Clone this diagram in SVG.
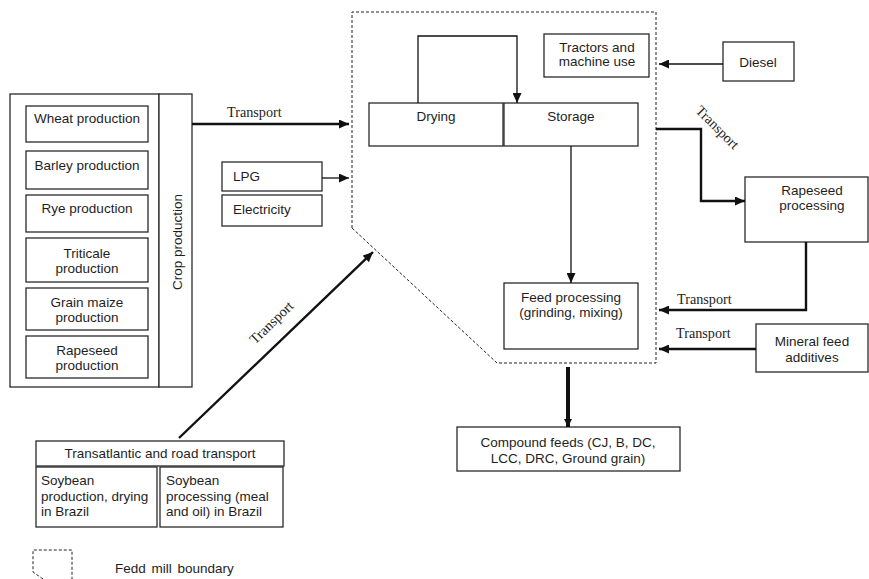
<svg xmlns="http://www.w3.org/2000/svg" width="869" height="579" viewBox="0 0 869 579">
<defs>
<style>
.box{fill:#fff;stroke:#2a2a2a;stroke-width:1.3}
.t{font-family:"Liberation Sans",Arial,sans-serif;font-size:13.5px;fill:#1e1e1e;text-anchor:middle}
.tl{font-family:"Liberation Sans",Arial,sans-serif;font-size:13.5px;fill:#1e1e1e}
.s{font-family:"Liberation Serif","Times New Roman",serif;font-size:14.2px;fill:#1e1e1e}
.c{fill:none;stroke:#111}
.thin{stroke-width:1.3}
.thick{stroke-width:2.4}
.dash{fill:none;stroke:#222;stroke-width:1;stroke-dasharray:3 2}
</style>
<marker id="ah" markerUnits="userSpaceOnUse" markerWidth="11" markerHeight="9" refX="10" refY="4.5" orient="auto">
<path d="M0,0 L10,4.5 L0,9 z" fill="#111"/>
</marker>
<marker id="ahs" markerUnits="userSpaceOnUse" markerWidth="9" markerHeight="8" refX="8" refY="4" orient="auto">
<path d="M0,0 L8,4 L0,8 z" fill="#111"/>
</marker>
</defs>
<rect width="869" height="579" fill="#fff"/>

<g id="boundary">
<path class="dash" d="M352,228 L352,12 L656,12 L656,363 L497,363 Z" stroke-linejoin="round"/>
</g>

<g id="crop-production">
<rect class="box" x="10" y="94" width="149" height="293"/>
<rect class="box" x="159" y="94" width="33" height="293"/>
<text class="t" transform="rotate(-90 182 242)" x="182" y="242">Crop production</text>
</g>
<g id="wheat"><rect class="box" x="26" y="106" width="122" height="36"/><text class="t" x="87" y="123">Wheat production</text></g>
<g id="barley"><rect class="box" x="26" y="151" width="122" height="38"/><text class="t" x="87" y="170">Barley production</text></g>
<g id="rye"><rect class="box" x="26" y="195" width="122" height="37"/><text class="t" x="87" y="213">Rye production</text></g>
<g id="triticale"><rect class="box" x="26" y="238" width="122" height="44"/><text class="t" x="87" y="258">Triticale</text><text class="t" x="87" y="273">production</text></g>
<g id="maize"><rect class="box" x="26" y="288" width="122" height="42"/><text class="t" x="87" y="307">Grain maize</text><text class="t" x="87" y="322">production</text></g>
<g id="rapeseed-prod"><rect class="box" x="26" y="336" width="122" height="42"/><text class="t" x="87" y="355">Rapeseed</text><text class="t" x="87" y="370">production</text></g>

<g id="lpg"><rect class="box" x="222" y="162" width="100" height="29"/><text class="tl" x="233" y="181">LPG</text></g>
<g id="electricity"><rect class="box" x="222" y="195" width="100" height="31"/><text class="tl" x="233" y="214">Electricity</text></g>

<g id="drying"><rect class="box" x="369" y="103" width="134" height="43"/><text class="t" x="436" y="121">Drying</text></g>
<g id="storage"><rect class="box" x="504" y="103" width="134" height="43"/><text class="t" x="571" y="121">Storage</text></g>
<g id="tractors"><rect class="box" x="544" y="34" width="105" height="43"/><text class="t" x="597" y="52">Tractors and</text><text class="t" x="597" y="66">machine use</text></g>
<g id="diesel"><rect class="box" x="723" y="42" width="71" height="39"/><text class="t" x="758" y="67">Diesel</text></g>
<g id="rapeseed-processing"><rect class="box" x="745" y="177" width="123" height="65"/><text class="t" x="812" y="195">Rapeseed</text><text class="t" x="812" y="210">processing</text></g>
<g id="feed-processing"><rect class="box" x="504" y="283" width="134" height="66"/><text class="t" x="571" y="302">Feed processing</text><text class="t" x="571" y="317">(grinding, mixing)</text></g>
<g id="mineral"><rect class="box" x="756" y="324" width="112" height="48"/><text class="t" x="812" y="346">Mineral feed</text><text class="t" x="812" y="362">additives</text></g>
<g id="compound"><rect class="box" x="457" y="427" width="223" height="44"/><text class="t" x="568" y="447">Compound feeds (CJ, B, DC,</text><text class="t" x="568" y="463">LCC, DRC, Ground grain)</text></g>

<g id="transatlantic"><rect class="box" x="36" y="441" width="248" height="25"/><text class="t" x="160" y="458">Transatlantic and road transport</text></g>
<g id="soy-production"><rect class="box" x="36" y="467" width="121" height="60"/><text class="tl" x="41" y="485">Soybean</text><text class="tl" x="41" y="501">production, drying</text><text class="tl" x="41" y="516">in Brazil</text></g>
<g id="soy-processing"><rect class="box" x="160" y="467" width="123" height="60"/><text class="tl" x="166" y="485">Soybean</text><text class="tl" x="166" y="501">processing (meal</text><text class="tl" x="166" y="516">and oil) in Brazil</text></g>

<g id="connectors">
<path class="c thick" d="M192,124 H349" marker-end="url(#ah)"/>
<text class="s" x="227" y="117">Transport</text>
<path class="c thin" d="M322,178 H349" marker-end="url(#ah)"/>
<path class="c thin" d="M418,103 V36 H517 V103" marker-end="url(#ah)"/>
<path class="c thin" d="M571,146 V283" marker-end="url(#ah)"/>
<path class="c thin" d="M723,64 H659" marker-end="url(#ah)"/>
<path class="c thick" d="M656,129 H701 V201 H745" stroke-linejoin="miter" marker-end="url(#ah)"/>
<text class="s" text-anchor="middle" transform="translate(717,128) rotate(45)" x="0" y="4">Transport</text>
<path class="c thick" d="M806,242 V310 H659" marker-end="url(#ah)"/>
<text class="s" x="677" y="304">Transport</text>
<path class="c thick" d="M756,349 H659" marker-end="url(#ah)"/>
<text class="s" x="676" y="338">Transport</text>
<path class="c" stroke-width="4" d="M568,367 V427" marker-end="url(#ahs)"/>
<path class="c thick" d="M179,438 L373,252" marker-end="url(#ah)"/>
<text class="s" text-anchor="middle" transform="translate(272,323) rotate(-44)" x="0" y="4">Transport</text>
</g>

<g id="legend">
<path class="dash" d="M43,579 L33,572 L33,550 L72,550 L72,579"/>
<text class="tl" x="115" y="573" word-spacing="2">Fedd mill boundary</text>
</g>
</svg>
